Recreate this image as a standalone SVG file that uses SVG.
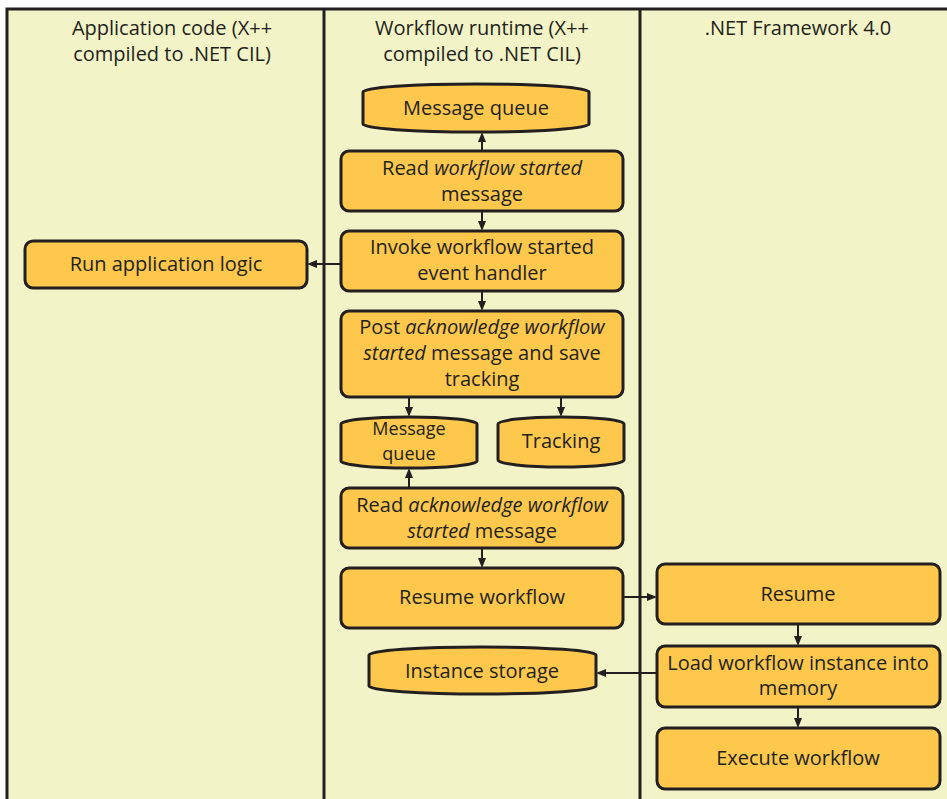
<svg xmlns="http://www.w3.org/2000/svg" width="947" height="799" viewBox="0 0 947 799">
  <defs>
    <marker id="arrow" markerWidth="10" markerHeight="8" refX="7" refY="4" orient="auto" markerUnits="userSpaceOnUse">
      <path d="M0,0 L10,4 L0,8 z" fill="#231F20"/>
    </marker>
    <style>
      .lane { fill: #F2F4C7; stroke: #231F20; stroke-width: 3; }
      .div { stroke: #231F20; stroke-width: 3; }
      .box { fill: #FDC84B; stroke: #231F20; stroke-width: 3; }
      .conn { stroke: #231F20; stroke-width: 2; fill: none; marker-end: url(#arrow); }
      text { font-family: "Open Sans", "Noto Sans", sans-serif; font-size: 20px; fill: #231F20; text-anchor: middle; }
      .it { font-style: italic; }
      .tight { font-size: 18px; }
    </style>
  </defs>

  <rect width="947" height="799" fill="#FFFFFF"/>

  <!-- swimlanes -->
  <g id="lanes">
    <rect class="lane" x="7" y="9" width="960" height="810"/>
    <line class="div" x1="324" y1="9" x2="324" y2="799"/>
    <line class="div" x1="640" y1="9" x2="640" y2="799"/>
    <text x="172" y="35">Application code (X++</text>
    <text x="172" y="61">compiled to .NET CIL)</text>
    <text x="482" y="35">Workflow runtime (X++</text>
    <text x="482" y="61">compiled to .NET CIL)</text>
    <text x="798" y="35">.NET Framework 4.0</text>
  </g>

  <!-- connectors -->
  <g id="connectors">
    <line class="conn" x1="482" y1="151" x2="482" y2="135"/>
    <line class="conn" x1="482" y1="211" x2="482" y2="228"/>
    <line class="conn" x1="341" y1="264" x2="310" y2="264"/>
    <line class="conn" x1="482" y1="291" x2="482" y2="308"/>
    <line class="conn" x1="409" y1="397" x2="409" y2="414"/>
    <line class="conn" x1="561" y1="397" x2="561" y2="414"/>
    <line class="conn" x1="409" y1="488" x2="409" y2="471"/>
    <line class="conn" x1="482" y1="548" x2="482" y2="565"/>
    <line class="conn" x1="623" y1="597" x2="654" y2="597"/>
    <line class="conn" x1="798" y1="624" x2="798" y2="643"/>
    <line class="conn" x1="798" y1="707" x2="798" y2="725"/>
    <line class="conn" x1="657" y1="673" x2="599" y2="673"/>
  </g>

  <!-- application code lane -->
  <g id="run-app-logic">
    <rect class="box" x="25" y="241" width="282" height="47" rx="8"/>
    <text x="166" y="271">Run application logic</text>
  </g>

  <!-- workflow runtime lane -->
  <g id="message-queue-1">
    <path class="box" d="M363,92 A113,8 0 0 1 589,92 L589,124 A113,8 0 0 1 363,124 Z"/>
    <text x="476" y="115">Message queue</text>
  </g>

  <g id="read-started">
    <rect class="box" x="341" y="151" width="282" height="60" rx="8"/>
    <text x="482" y="175">Read <tspan class="it">workflow started</tspan></text>
    <text x="482" y="201">message</text>
  </g>

  <g id="invoke-handler">
    <rect class="box" x="341" y="231" width="282" height="60" rx="8"/>
    <text x="482" y="254">Invoke workflow started</text>
    <text x="482" y="280">event handler</text>
  </g>

  <g id="post-ack">
    <rect class="box" x="341" y="311" width="282" height="86" rx="8"/>
    <text x="482" y="334">Post <tspan class="it">acknowledge workflow</tspan></text>
    <text x="482" y="360"><tspan class="it">started</tspan> message and save</text>
    <text x="482" y="386">tracking</text>
  </g>

  <g id="message-queue-2">
    <path class="box" d="M341,424 A68,7 0 0 1 477,424 L477,461 A68,7 0 0 1 341,461 Z"/>
    <text class="tight" x="409" y="435">Message</text>
    <text class="tight" x="409" y="460">queue</text>
  </g>

  <g id="tracking">
    <path class="box" d="M498,424 A63,7 0 0 1 624,424 L624,460 A63,7 0 0 1 498,460 Z"/>
    <text x="561" y="448">Tracking</text>
  </g>

  <g id="read-ack">
    <rect class="box" x="341" y="488" width="282" height="60" rx="8"/>
    <text x="482" y="512">Read <tspan class="it">acknowledge workflow</tspan></text>
    <text x="482" y="538"><tspan class="it">started</tspan> message</text>
  </g>

  <g id="resume-workflow">
    <rect class="box" x="341" y="568" width="282" height="60" rx="8"/>
    <text x="482" y="604">Resume workflow</text>
  </g>

  <g id="instance-storage">
    <path class="box" d="M369,655 A113.5,8 0 0 1 596,655 L596,686 A113.5,8 0 0 1 369,686 Z"/>
    <text x="482" y="678">Instance storage</text>
  </g>

  <!-- .NET Framework lane -->
  <g id="resume">
    <rect class="box" x="657" y="564" width="283" height="60" rx="8"/>
    <text x="798" y="601">Resume</text>
  </g>

  <g id="load-instance">
    <rect class="box" x="657" y="646" width="283" height="61" rx="8"/>
    <text x="798" y="670">Load workflow instance into</text>
    <text x="798" y="695">memory</text>
  </g>

  <g id="execute-workflow">
    <rect class="box" x="657" y="728" width="283" height="61" rx="8"/>
    <text x="798" y="765">Execute workflow</text>
  </g>
</svg>
